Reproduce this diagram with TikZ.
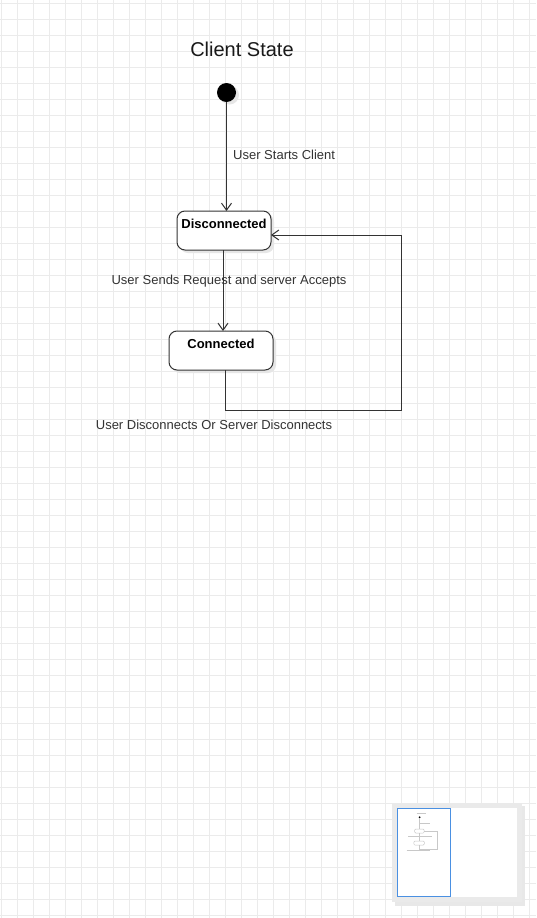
\documentclass[tikz,border=0pt]{standalone}
\usepackage{fontspec}
\setmainfont{Liberation Sans}
\usetikzlibrary{arrows.meta}
\definecolor{gridc}{HTML}{EBEBEB}
\definecolor{linec}{HTML}{333333}
\definecolor{shadowc}{HTML}{E6E6E6}
\definecolor{panelc}{HTML}{EAEAEA}
\definecolor{bluec}{HTML}{4A90E2}
\definecolor{minic}{HTML}{C8C8C8}
\begin{document}
\begin{tikzpicture}[x=1pt,y=-1pt,
  statebox/.style={draw=linec, line width=1pt, rounded corners=8pt, fill=white,
     minimum width=#1, inner sep=0pt, outer sep=0pt},
  shadowbox/.style={fill=shadowc, rounded corners=8pt},
  statetext/.style={font=\fontsize{13}{15}\selectfont\bfseries, text=black, inner sep=0pt, anchor=north},
  lbl/.style={font=\fontsize{13}{15}\selectfont, text=linec, inner sep=0pt},
  conn/.style={draw=linec, line width=1pt, -{Straight Barb[length=7pt,width=10pt,line width=1pt]}},
  plain/.style={draw=linec, line width=1pt},
  mini/.style={draw=minic, line width=0.5pt}
]
\useasboundingbox (0,0) rectangle (536,918);
\fill[white] (0,0) rectangle (536,918);
% grid
\foreach \gx in {1,17,...,536} \draw[gridc, line width=1pt] (\gx,0) -- (\gx,918);
\foreach \gy in {3,19,...,918} \draw[gridc, line width=1pt] (0,\gy) -- (536,\gy);

% title
\node[font=\fontsize{20}{24}\selectfont, text=black!90, inner sep=0pt] (title) at (242,49) {Client State};

% initial state
\fill[shadowc] (229.5,95) circle (9.5);
\node[circle, fill=black, minimum size=19pt, inner sep=0pt] (init) at (226.5,92.5) {};

% state boxes
\fill[shadowbox] (180,214) rectangle (274,253);
\node[statebox=94pt, minimum height=39pt] (disc) at (224,230.5) {};
\node[statetext] (disctext) at ([yshift=-7.5pt]disc.north) {Disconnected};

\fill[shadowbox] (172,334) rectangle (276,373);
\node[statebox=104pt, minimum height=39pt] (connd) at (221,350.5) {};
\node[statetext] (conntext) at ([yshift=-7.5pt]connd.north) {Connected};

% connectors
\draw[conn] (init) -- (init |- disc.north);
\node[lbl, anchor=west] (l1) at (233,155) {User Starts Client};

\coordinate (d1) at (223,250);
\draw[conn] (d1) -- (d1 |- connd.north);
\node[lbl] (l2) at (229,281) {User Sends Request and server Accepts};

\coordinate (lb) at (225,410);
\coordinate (rb) at (401,410);
\coordinate (rt) at (401,235);
\draw[plain] (lb |- connd.south) -- (lb) -- (rb) -- (rt);
\draw[conn] (rt) -- (rt -| disc.east);
\node[lbl] (l3) at (214,425) {User Disconnects Or Server Disconnects};

% outline panel
\fill[black!9] (395,806) rectangle (525,906);
\fill[panelc] (392,803) rectangle (522,902);
\fill[white] (397,808) rectangle (517,897);
\draw[bluec, line width=1.3pt] (397.5,808.5) rectangle (450.5,896.5);
\begin{scope}[shift={(397,808)}, scale=0.1]
  \draw[mini, line width=0.6pt] (195,49) -- (290,49);
  \fill[black] (226.5,92.5) circle (10);
  \draw[mini] (226,100) -- (226,211);
  \draw[mini] (233,154) -- (334,154);
  \draw[mini, rounded corners=1pt] (177,211) rectangle (271,250);
  \draw[mini] (223,250) -- (223,331);
  \draw[mini] (112,280) -- (346,280);
  \draw[mini, rounded corners=1pt] (169,331) rectangle (273,370);
  \draw[mini] (225,370) -- (225,410) -- (401,410) -- (401,235) -- (271,235);
  \draw[mini] (96,424) -- (332,424);
\end{scope}
\end{tikzpicture}
\end{document}
